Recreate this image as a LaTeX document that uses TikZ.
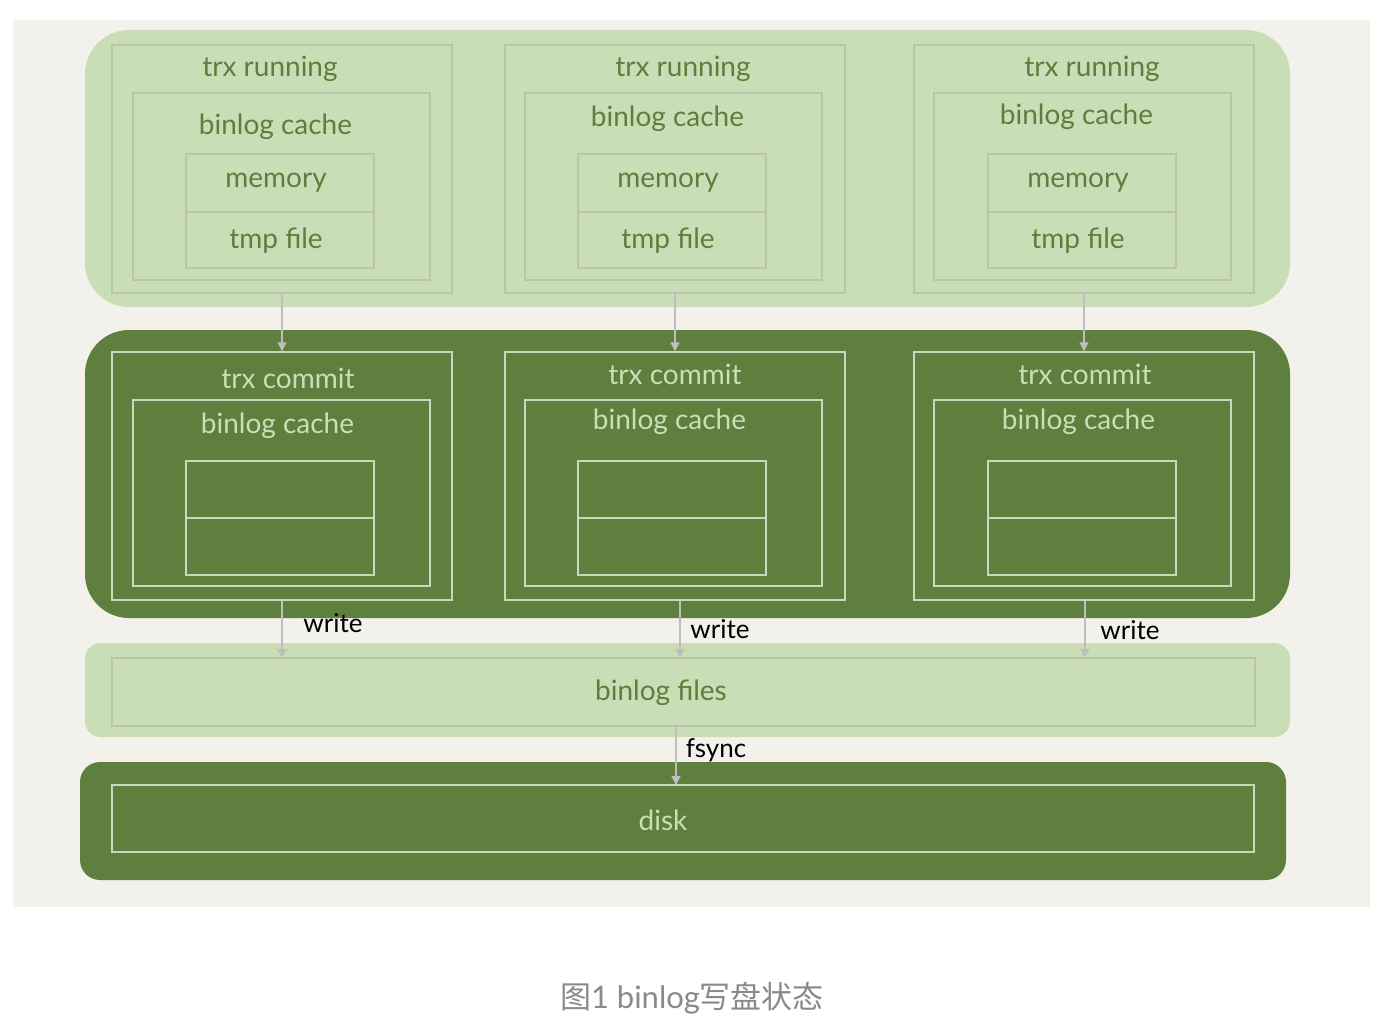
\documentclass[tikz,border=0pt]{standalone}
\usepackage{fontspec}
\setmainfont{Lato}
\newfontfamily\cjkfont{Noto Sans CJK SC}
\usetikzlibrary{fit,arrows.meta}
\definecolor{bgpaper}{HTML}{F3F1EC}
\definecolor{lightg}{HTML}{C9DEB6}
\definecolor{darkg}{HTML}{5E7F3D}
\definecolor{lborder}{HTML}{BAC5AE}
\definecolor{dborder}{HTML}{C9D8BA}
\definecolor{ltext}{HTML}{5C7F3B}
\definecolor{dtext}{HTML}{CADFB8}
\definecolor{arrowg}{HTML}{BEBEBE}
\definecolor{captg}{HTML}{8A8A8A}
\tikzset{
  lband/.style={fill=lightg, draw=none, inner sep=0pt, rounded corners=22pt},
  dband/.style={fill=darkg, draw=none, inner sep=0pt, rounded corners=22pt},
  lbox/.style={draw=lborder, line width=0.7pt, inner sep=0pt},
  dbox/.style={draw=dborder, line width=0.7pt, inner sep=0pt},
  ltxt/.style={text=ltext, font=\fontsize{14}{16}\selectfont, inner sep=0pt},
  dtxt/.style={text=dtext, font=\fontsize{14}{16}\selectfont, inner sep=0pt},
  lbl/.style={text=black, font=\fontsize{13}{15}\selectfont, inner sep=0pt},
  flow/.style={draw=arrowg, line width=0.6pt, -{Triangle[width=4.5pt,length=4.5pt]}}
}
\begin{document}
\begin{tikzpicture}[x=0.5pt,y=-0.5pt]
\useasboundingbox (0,0) rectangle (1382,1022);
\fill[white] (0,0) rectangle (1382,1022);
\fill[bgpaper] (13,20) rectangle (1370,907);

% bands
\node[lband, fit={(85,30)(1290,307)}] (top) {};
\node[dband, fit={(85,330)(1290,618)}] (mid) {};
\node[lband, rounded corners=8pt, fit={(85,643)(1290,737)}] (files) {};
\node[dband, rounded corners=10pt, fit={(80,762)(1286,880)}] (diskband) {};

% running columns
\foreach \i/\xa/\xb/\xc/\xd/\xe/\xf/\ty/\tt in {1/112/452/133/430/186/374/127/270, 2/505/845/525/822/578/766/119/683, 3/914/1254/934/1231/988/1176/117/1092} {
  \node[lbox, fit={(\xa,45)(\xb,293)}] (r\i) {};
  \node[lbox, fit={(\xc,93)(\xd,280)}] (rc\i) {};
  \node[lbox, fit={(\xe,154)(\xf,212)}] (rm\i) {};
  \node[lbox, fit={(\xe,212)(\xf,268)}] (rt\i) {};
  \node[ltxt] (rtitle\i) at (\tt,69) {trx running};
  \node[ltxt] (rctitle\i) at ({(\xc+\xd)/2-6},\ty) {binlog cache};
  \node[ltxt] (rmtxt\i) at ({(\xe+\xf)/2-4},183) {memory};
  \node[ltxt] (rttxt\i) at ({(\xe+\xf)/2-4},241) {tmp file};
}

% commit columns
\foreach \i/\xa/\xb/\xc/\xd/\xe/\xf/\ty/\tx/\tt in {1/112/452/133/430/186/374/426/378/288, 2/505/845/525/822/578/766/422/374/675, 3/914/1254/934/1231/988/1176/422/374/1085} {
  \node[dbox, fit={(\xa,352)(\xb,600)}] (c\i) {};
  \node[dbox, fit={(\xc,400)(\xd,586)}] (cc\i) {};
  \node[dbox, fit={(\xe,461)(\xf,518)}] (cm\i) {};
  \node[dbox, fit={(\xe,518)(\xf,575)}] (ct\i) {};
  \node[dtxt] (ctitle\i) at (\tt,\tx) {trx commit};
  \node[dtxt] (cctitle\i) at ({(\xc+\xd)/2-4},\ty) {binlog cache};
}

% binlog files and disk
\node[lbox, fit={(112,658)(1255,726)}] (bf) {};
\node[ltxt] (bftxt) at (661,693) {binlog files};
\node[dbox, fit={(112,785)(1254,852)}] (dk) {};
\node[dtxt] (dktxt) at (663,820) {disk};

% arrows running -> commit
\foreach \i in {1,2,3} {
  \draw[flow] (r\i.south) -- (c\i.north);
}
% write arrows
\coordinate (w1) at (282,658);
\coordinate (w2) at (680,658);
\coordinate (w3) at (1085,658);
\draw[flow] (c1.south) -- (w1);
\draw[flow] (c2.south -| w2) -- (w2);
\draw[flow] (c3.south -| w3) -- (w3);
\node[lbl] (wl1) at (333,623) {write};
\node[lbl] (wl2) at (720,629) {write};
\node[lbl] (wl3) at (1130,630) {write};

% fsync
\coordinate (fs0) at (676,726);
\coordinate (fs1) at (676,785);
\draw[flow] (fs0) -- (fs1);
\node[lbl] (fsl) at (716,750) {fsync};

% caption
\node[text=captg, font=\fontsize{15.5}{18}\selectfont, inner sep=0pt] (cap) at (692,998) {{\cjkfont 图}1 binlog{\cjkfont 写盘状态}};
\end{tikzpicture}
\end{document}
